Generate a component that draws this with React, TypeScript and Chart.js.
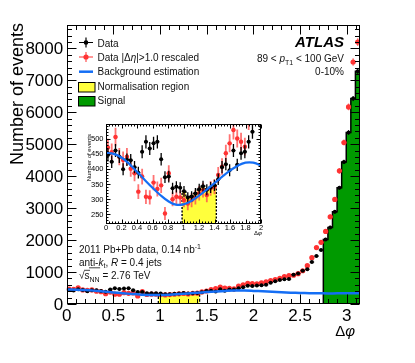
import React, { useEffect, useRef } from "react";
import { Chart, registerables } from "chart.js";

Chart.register(...registerables);

// ---------------- data ----------------
const BIN_WIDTH = Math.PI / 64; // histogram binning in delta-phi

// Data (black), per bin from 0 to pi
const dataCounts = [
  445, 423, 460, 440, 398, 430, 428, 405, 387, 456,
  489, 467, 484, 489, 431, 372, 374, 335, 340, 337,
  325, 305, 308, 318, 332, 342, 330, 338, 345, 365,
  405, 415, 395, 460, 413, 451, 456, 489, 522, 573,
  560, 575, 585, 600, 667, 708, 750, 771, 780, 917,
  958, 1042, 1090, 1312, 1500, 1688, 2022, 2397, 2884, 3634,
  4447, 5366, 6428, 7281,
];

// Data |delta eta| > 1.0 rescaled (red)
const rescaledCounts = [
  470, 455, 505, 440, 429, 440, 400, 385, 324, 374,
  307, 305, 354, 333, 345, 252, 385, 299, 307, 305,
  296, 285, 296, 305, 319, 329, 313, 335, 340, 379,
  407, 451, 484, 528, 500, 489, 473, 560, 600, 646,
  640, 630, 660, 690, 729, 760, 802, 860, 885, 900,
  950, 1040, 1200, 1450, 1765, 1930, 2270, 2728, 3272, 4166,
  5053, 6166, 7572, 8197,
];

// Background estimation curve
const bgPhi = [
  0, 0.1, 0.2, 0.3, 0.4, 0.5, 0.6, 0.7, 0.8, 0.9, 1.0, 1.1, 1.2, 1.3, 1.4, 1.5,
  1.6, 1.7, 1.8, 1.9, 2.0, 2.1, 2.2, 2.3, 2.4, 2.5, 2.6, 2.7, 2.8, 2.9, 3.0, 3.1, 3.1416,
];
const bgValues = [
  453, 449, 437, 416, 390, 363, 337, 313, 293, 281, 282, 293, 311, 331, 352, 374,
  394, 410, 420, 420, 410, 396, 381, 367, 355, 345, 338, 334, 332, 333, 334, 335, 335,
];

const normBins = [20, 28]; // normalisation region (first, last bin)
const signalBins = [56, 63]; // signal region (first, last bin)
const rescaledErrScale = 1.35;

const mainXTicks = [0, 0.5, 1, 1.5, 2, 2.5, 3];
const mainXTickLabels = ["0", "0.5", "1", "1.5", "2", "2.5", "3"];
const mainYTicks = [0, 1000, 2000, 3000, 4000, 5000, 6000, 7000, 8000];
const mainYTickLabels = ["0", "1000", "2000", "3000", "4000", "5000", "6000", "7000", "8000"];
const insetXTicks = [0, 0.2, 0.4, 0.6, 0.8, 1, 1.2, 1.4, 1.6, 1.8, 2];
const insetXTickLabels = ["0", "0.2", "0.4", "0.6", "0.8", "1", "1.2", "1.4", "1.6", "1.8", "2"];
const insetYTicks = [250, 300, 350, 400, 450, 500];
const insetYTickLabels = ["250", "300", "350", "400", "450", "500"];

// ---------------- styles ----------------
const FONT = '"Liberation Sans", Arial, Helvetica, sans-serif';
const RED = "#ff3333";
const RED_ERR = "rgba(255,80,80,0.8)";
const BLUE = "rgb(20,110,245)";
const YELLOW = "#ffff3c";
const GREEN = "#009a00";

// ---------------- helpers ----------------
type P = { x: number; y: number; e?: number };

const binCenters = dataCounts.map((_, i) => (i + 0.5) * BIN_WIDTH);

function pointsWithErr(counts: number[], scale: number, maxX: number): P[] {
  const out: P[] = [];
  counts.forEach((v, i) => {
    if (binCenters[i] <= maxX) out.push({ x: binCenters[i], y: v, e: Math.sqrt(v) * scale });
  });
  return out;
}

function stepPoints(counts: number[], first: number, last: number): P[] {
  const pts: P[] = [{ x: first * BIN_WIDTH, y: 0 }];
  for (let i = first; i <= last; i++) {
    pts.push({ x: i * BIN_WIDTH, y: counts[i] });
    pts.push({ x: (i + 1) * BIN_WIDTH, y: counts[i] });
  }
  pts.push({ x: (last + 1) * BIN_WIDTH, y: 0 });
  return pts;
}

const errorBarPlugin = {
  id: "errorBars",
  beforeDatasetDraw(chart: any, args: any) {
    const ds = chart.data.datasets[args.index];
    if (!ds.errorColor) return;
    const { ctx, chartArea: a } = chart;
    const xs = chart.scales.x;
    const ys = chart.scales.y;
    ctx.save();
    ctx.beginPath();
    ctx.rect(a.left, a.top, a.right - a.left, a.bottom - a.top);
    ctx.clip();
    ctx.strokeStyle = ds.errorColor;
    ctx.lineWidth = ds.errorWidth;
    ctx.beginPath();
    ds.data.forEach((p: P) => {
      const x = xs.getPixelForValue(p.x);
      const y = ys.getPixelForValue(p.y);
      const y1 = ys.getPixelForValue(p.y + (p.e || 0));
      const y2 = ys.getPixelForValue(p.y - (p.e || 0));
      const xl = xs.getPixelForValue(p.x - BIN_WIDTH / 2);
      const xr = xs.getPixelForValue(p.x + BIN_WIDTH / 2);
      ctx.moveTo(x, y1);
      ctx.lineTo(x, y2);
      ctx.moveTo(xl, y);
      ctx.lineTo(xr, y);
    });
    ctx.stroke();
    ctx.restore();
  },
};

type AxisCfg = {
  xMajor: number[];
  xLabels: string[];
  xMinorStep: number;
  yMajor: number[];
  yLabels: string[];
  yMinorStep: number;
  majorLen: number;
  minorLen: number;
  font: string;
  xLabelDy: number;
  yLabelDx: number;
  yLabelDy: number;
  lineWidth: number;
};

function drawAxes(chart: any, c: AxisCfg) {
  const { ctx, chartArea: a } = chart;
  const xs = chart.scales.x;
  const ys = chart.scales.y;
  ctx.save();
  ctx.strokeStyle = "#000";
  ctx.lineWidth = c.lineWidth;
  const L = Math.round(a.left) + 0.5;
  const R = Math.round(a.right) - 0.5;
  const T = Math.round(a.top) + 0.5;
  const B = Math.round(a.bottom) - 0.5;
  ctx.strokeRect(L, T, R - L, B - T);
  ctx.beginPath();
  const isMajor = (v: number, arr: number[]) => arr.some((m) => Math.abs(m - v) < 1e-6);
  // x ticks
  const nx = Math.floor((xs.max - xs.min) / c.xMinorStep + 1e-6);
  for (let k = 0; k <= nx; k++) {
    const v = xs.min + k * c.xMinorStep;
    const len = isMajor(v, c.xMajor) ? c.majorLen : c.minorLen;
    const px = Math.round(xs.getPixelForValue(v)) + 0.5;
    ctx.moveTo(px, B);
    ctx.lineTo(px, B - len);
    ctx.moveTo(px, T);
    ctx.lineTo(px, T + len);
  }
  const ny = Math.floor((ys.max - ys.min) / c.yMinorStep + 1e-6);
  const y0 = Math.ceil(ys.min / c.yMinorStep) * c.yMinorStep;
  for (let k = 0; k <= ny; k++) {
    const v = y0 + k * c.yMinorStep;
    if (v > ys.max) break;
    const len = isMajor(v, c.yMajor) ? c.majorLen : c.minorLen;
    const py = Math.round(ys.getPixelForValue(v)) + 0.5;
    ctx.moveTo(L, py);
    ctx.lineTo(L + len, py);
    ctx.moveTo(R, py);
    ctx.lineTo(R - len, py);
  }
  ctx.stroke();
  // labels
  ctx.fillStyle = "#000";
  ctx.font = c.font;
  ctx.textBaseline = "alphabetic";
  ctx.textAlign = "center";
  c.xMajor.forEach((v, i) => {
    ctx.fillText(c.xLabels[i], xs.getPixelForValue(v), a.bottom + c.xLabelDy);
  });
  ctx.textAlign = "right";
  c.yMajor.forEach((v, i) => {
    ctx.fillText(c.yLabels[i], a.left - c.yLabelDx, ys.getPixelForValue(v) + c.yLabelDy);
  });
  ctx.restore();
}

type Seg = { t: string; f: string; dy?: number; over?: number };
function drawRich(ctx: CanvasRenderingContext2D, segs: Seg[], x: number, y: number, align: "left" | "right") {
  let w = 0;
  for (const s of segs) {
    ctx.font = s.f;
    w += ctx.measureText(s.t).width;
  }
  let cx = align === "right" ? x - w : x;
  ctx.textAlign = "left";
  ctx.textBaseline = "alphabetic";
  for (const s of segs) {
    ctx.font = s.f;
    const sw = ctx.measureText(s.t).width;
    ctx.fillText(s.t, cx, y + (s.dy || 0));
    if (s.over) {
      ctx.beginPath();
      ctx.lineWidth = 0.8;
      ctx.moveTo(cx - 0.5, y - s.over);
      ctx.lineTo(cx + sw + 0.5, y - s.over);
      ctx.stroke();
    }
    cx += sw;
  }
}

const f = (size: number, style = "") => `${style} ${size}px ${FONT}`.trim();

const mainDecor = {
  id: "mainDecor",
  afterDraw(chart: any) {
    const ctx: CanvasRenderingContext2D = chart.ctx;
    drawAxes(chart, {
      xMajor: mainXTicks,
      xLabels: mainXTickLabels,
      xMinorStep: 0.1,
      yMajor: mainYTicks,
      yLabels: mainYTickLabels,
      yMinorStep: 200,
      majorLen: 9,
      minorLen: 4.5,
      font: f(17),
      xLabelDy: 17,
      yLabelDx: 3.5,
      yLabelDy: 6,
      lineWidth: 1,
    });
    ctx.save();
    ctx.fillStyle = "#000";
    ctx.strokeStyle = "#000";
    // y title
    ctx.save();
    ctx.translate(23, 23);
    ctx.rotate(-Math.PI / 2);
    ctx.font = f(18);
    ctx.textAlign = "right";
    ctx.textBaseline = "alphabetic";
    ctx.fillText("Number of events", 0, 0);
    ctx.restore();
    // x title
    drawRich(ctx, [{ t: "Δ", f: f(15) }, { t: "φ", f: f(15, "italic") }], 355, 336, "right");

    // legend
    const tx = 97.5;
    ctx.lineWidth = 1.2;
    ctx.strokeStyle = "#000";
    ctx.beginPath();
    ctx.moveTo(79, 42.5); ctx.lineTo(93, 42.5);
    ctx.moveTo(86, 37.5); ctx.lineTo(86, 47.5);
    ctx.stroke();
    ctx.beginPath(); ctx.arc(86, 42.5, 2.3, 0, Math.PI * 2); ctx.fillStyle = "#000"; ctx.fill();
    ctx.strokeStyle = RED_ERR;
    ctx.lineWidth = 1.5;
    ctx.beginPath();
    ctx.moveTo(79, 57); ctx.lineTo(93, 57);
    ctx.moveTo(86, 52); ctx.lineTo(86, 62);
    ctx.stroke();
    ctx.beginPath(); ctx.arc(86, 57, 2.6, 0, Math.PI * 2); ctx.fillStyle = RED; ctx.fill();
    ctx.strokeStyle = BLUE;
    ctx.lineWidth = 2.5;
    ctx.beginPath(); ctx.moveTo(79, 71.7); ctx.lineTo(93, 71.7); ctx.stroke();
    ctx.lineWidth = 1;
    ctx.strokeStyle = "#000";
    ctx.fillStyle = YELLOW; ctx.fillRect(78, 82.5, 17, 9.5); ctx.strokeRect(78.5, 82.5, 16.5, 9.5);
    ctx.fillStyle = GREEN; ctx.fillRect(78, 96.5, 17, 9.5); ctx.strokeRect(78.5, 96.5, 16.5, 9.5);
    ctx.fillStyle = "#111";
    ctx.strokeStyle = "#111";
    drawRich(ctx, [{ t: "Data", f: f(10) }], tx, 46.7, "left");
    drawRich(ctx, [{ t: "Data |Δ", f: f(10) }, { t: "η", f: f(10, "italic") }, { t: "|>1.0 rescaled", f: f(10) }], tx, 61, "left");
    drawRich(ctx, [{ t: "Background estimation", f: f(10) }], tx, 75.3, "left");
    drawRich(ctx, [{ t: "Normalisation region", f: f(10) }], tx, 89.7, "left");
    drawRich(ctx, [{ t: "Signal", f: f(10) }], tx, 104, "left");

    // ATLAS labels
    ctx.fillStyle = "#000";
    drawRich(ctx, [{ t: "ATLAS", f: f(15, "italic bold") }], 344, 46.7, "right");
    ctx.fillStyle = "#111";
    drawRich(ctx, [
      { t: "89 < ", f: f(10) },
      { t: "p", f: f(10, "italic") },
      { t: "T1", f: f(7), dy: 3 },
      { t: " < 100 GeV", f: f(10) },
    ], 344, 61.5, "right");
    drawRich(ctx, [{ t: "0-10%", f: f(10) }], 344, 75, "right");

    // bottom-left text
    drawRich(ctx, [{ t: "2011 Pb+Pb data, 0.14 nb", f: f(10) }, { t: "-1", f: f(7), dy: -4 }], 79, 253.3, "left");
    drawRich(ctx, [
      { t: "anti-", f: f(10) },
      { t: "k", f: f(10, "italic") },
      { t: "t", f: f(7), dy: 2.5 },
      { t: ", ", f: f(10) },
      { t: "R", f: f(10, "italic") },
      { t: " = 0.4 jets", f: f(10) },
    ], 79, 265.7, "left");
    drawRich(ctx, [
      { t: "√", f: f(10) },
      { t: "s", f: f(10), over: 9 },
      { t: "NN", f: f(7), dy: 2.5, over: 11.5 },
      { t: " = 2.76 TeV", f: f(10) },
    ], 79, 279.3, "left");
    ctx.restore();
  },
};

const insetDecor = {
  id: "insetDecor",
  afterDraw(chart: any) {
    const ctx: CanvasRenderingContext2D = chart.ctx;
    drawAxes(chart, {
      xMajor: insetXTicks,
      xLabels: insetXTickLabels,
      xMinorStep: 0.04,
      yMajor: insetYTicks,
      yLabels: insetYTickLabels,
      yMinorStep: 10,
      majorLen: 4,
      minorLen: 2,
      font: f(7.5),
      xLabelDy: 6,
      yLabelDx: 2.5,
      yLabelDy: 2.7,
      lineWidth: 1,
    });
    ctx.save();
    ctx.fillStyle = "#000";
    ctx.save();
    ctx.translate(12.5, 20);
    ctx.rotate(-Math.PI / 2);
    ctx.font = f(6);
    ctx.textAlign = "right";
    ctx.fillText("Number of events", 0, 0);
    ctx.restore();
    drawRich(ctx, [{ t: "Δ", f: f(6) }, { t: "φ", f: f(6, "italic") }], 184, 121, "right");
    ctx.restore();
  },
};

export default function App() {
  const mainRef = useRef<HTMLCanvasElement | null>(null);
  const insetRef = useRef<HTMLCanvasElement | null>(null);

  useEffect(() => {
    if (!mainRef.current || !insetRef.current) return;

    const bgMain = bgPhi.map((x, i) => ({ x, y: bgValues[i] }));
    const mainChart = new Chart(mainRef.current, {
      type: "scatter",
      data: {
        datasets: [
          {
            type: "line",
            label: "Background estimation",
            data: bgMain,
            borderColor: BLUE,
            borderWidth: 2.5,
            pointRadius: 0,
            tension: 0.4,
            fill: false,
            order: 1,
          } as any,
          {
            type: "scatter",
            label: "Data",
            data: pointsWithErr(dataCounts, 1, 10),
            backgroundColor: "#000",
            borderColor: "#000",
            pointRadius: 2,
            pointBorderWidth: 0,
            errorColor: "#000",
            errorWidth: 1,
            order: 2,
          } as any,
          {
            type: "scatter",
            label: "Data |Δη|>1.0 rescaled",
            data: pointsWithErr(rescaledCounts, rescaledErrScale, 10),
            backgroundColor: RED,
            borderColor: RED,
            pointRadius: 2.6,
            pointBorderWidth: 0,
            errorColor: RED_ERR,
            errorWidth: 1.3,
            order: 3,
          } as any,
          {
            type: "line",
            label: "Signal",
            data: stepPoints(dataCounts, signalBins[0], signalBins[1]),
            borderColor: "#000",
            borderWidth: 1.5,
            backgroundColor: GREEN,
            fill: "origin",
            pointRadius: 0,
            tension: 0,
            order: 4,
          } as any,
          {
            type: "line",
            label: "Normalisation region",
            data: stepPoints(dataCounts, normBins[0], normBins[1]),
            borderColor: "#000",
            borderWidth: 1.3,
            borderDash: [3, 2],
            backgroundColor: YELLOW,
            fill: "origin",
            pointRadius: 0,
            tension: 0,
            order: 5,
          } as any,
        ],
      },
      options: {
        responsive: false,
        animation: false,
        devicePixelRatio: 1,
        events: [],
        layout: { padding: { left: 66.7, top: 25, right: 55, bottom: 59 } },
        plugins: { legend: { display: false }, tooltip: { enabled: false } },
        scales: {
          x: { type: "linear", display: false, min: 0, max: Math.PI },
          y: { type: "linear", display: false, min: 0, max: 8730 },
        },
      },
      plugins: [errorBarPlugin, mainDecor],
    } as any);

    const bgInset = bgPhi.filter((x) => x <= 2.15).map((x, i) => ({ x, y: bgValues[i] }));
    const insetChart = new Chart(insetRef.current, {
      type: "scatter",
      data: {
        datasets: [
          {
            type: "line",
            data: bgInset,
            borderColor: BLUE,
            borderWidth: 2.2,
            pointRadius: 0,
            tension: 0.4,
            fill: false,
            clip: 0,
            order: 1,
          } as any,
          {
            type: "scatter",
            data: pointsWithErr(dataCounts, 1, 2.01),
            backgroundColor: "#000",
            borderColor: "#000",
            pointRadius: 2,
            pointBorderWidth: 0,
            errorColor: "#000",
            errorWidth: 1.3,
            clip: 0,
            order: 2,
          } as any,
          {
            type: "scatter",
            data: pointsWithErr(rescaledCounts, rescaledErrScale, 2.01),
            backgroundColor: RED,
            borderColor: RED,
            pointRadius: 2.2,
            pointBorderWidth: 0,
            errorColor: RED_ERR,
            errorWidth: 1.8,
            clip: 0,
            order: 3,
          } as any,
          {
            type: "line",
            data: stepPoints(dataCounts, normBins[0], normBins[1]),
            borderColor: "#000",
            borderWidth: 1.4,
            borderDash: [2, 1.5],
            backgroundColor: YELLOW,
            fill: "origin",
            pointRadius: 0,
            tension: 0,
            clip: 0,
            order: 5,
          } as any,
        ],
      },
      options: {
        responsive: false,
        animation: false,
        devicePixelRatio: 1,
        events: [],
        layout: { padding: { left: 28, top: 10, right: 17, bottom: 20 } },
        plugins: { legend: { display: false }, tooltip: { enabled: false } },
        scales: {
          x: { type: "linear", display: false, min: 0, max: 2 },
          y: { type: "linear", display: false, min: 217, max: 548 },
        },
      },
      plugins: [errorBarPlugin, insetDecor],
    } as any);

    return () => {
      mainChart.destroy();
      insetChart.destroy();
    };
  }, []);

  return (
    <div style={{ position: "fixed", left: 0, top: 0, width: 415, height: 363, background: "#fff" }}>
      <canvas
        ref={mainRef}
        width={415}
        height={363}
        style={{ position: "absolute", left: 0, top: 0, width: 415, height: 363 }}
      />
      <canvas
        ref={insetRef}
        width={200}
        height={130}
        style={{ position: "absolute", left: 78, top: 114, width: 200, height: 130 }}
      />
    </div>
  );
}
